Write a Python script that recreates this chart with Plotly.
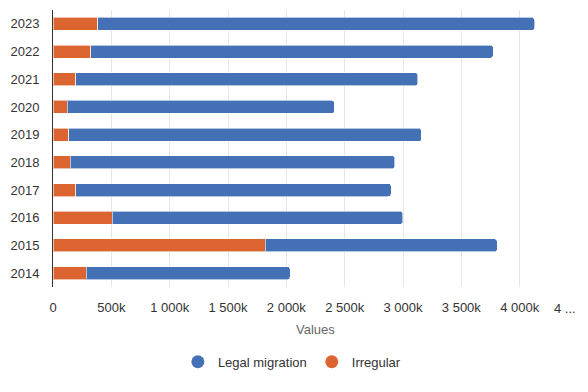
import plotly.graph_objects as go

years = ["2014", "2015", "2016", "2017", "2018", "2019", "2020", "2021", "2022", "2023"]
irregular = [283000, 1818000, 509000, 194000, 146000, 137000, 120000, 197000, 323000, 382000]
legal_migration = [1749000, 1990000, 2489000, 2704000, 2784000, 3021000, 2292000, 2930000, 3450000, 3746000]
tick_values = [0, 500000, 1000000, 1500000, 2000000, 2500000, 3000000, 3500000, 4000000, 4500000]
tick_labels = ["0", "500k", "1 000k", "1 500k", "2 000k", "2 500k", "3 000k", "3 500k", "4 000k", ""]
last_tick_label = "4 ..."

BLUE = "#4470b5"
ORANGE = "#dc6430"
FONT = "Liberation Sans, Arial, sans-serif"

fig = go.Figure()
fig.add_trace(go.Bar(
    y=years, x=irregular, orientation="h", name="Irregular",
    marker=dict(color=ORANGE, line=dict(color="rgba(255,255,255,0.6)", width=1)),
    showlegend=False,
))
fig.add_trace(go.Bar(
    y=years, x=legal_migration, orientation="h", name="Legal migration",
    marker=dict(color=BLUE, line=dict(color="rgba(255,255,255,0.6)", width=1)),
    showlegend=False,
))
# legend entries with circle symbols
fig.add_trace(go.Scatter(x=[None], y=[None], mode="markers", name="Legal migration",
                         marker=dict(color=BLUE, size=13, symbol="circle")))
fig.add_trace(go.Scatter(x=[None], y=[None], mode="markers", name="Irregular",
                         marker=dict(color=ORANGE, size=13, symbol="circle")))

# truncated last tick label, shifted inside the page as in the reference
fig.add_annotation(x=tick_values[-1], xref="x", y=0, yref="paper", yanchor="top",
                   xanchor="right", text=last_tick_label, showarrow=False,
                   xshift=0, yshift=-12, font=dict(size=13, color="#333333"))
fig.add_annotation(x=0.5, xref="paper", y=0, yref="paper", yanchor="top",
                   text="Values", showarrow=False, yshift=-33,
                   font=dict(size=13, color="#666666"))

fig.update_layout(
    width=588, height=392,
    margin=dict(l=53, r=10, t=10, b=105, autoexpand=False),
    barmode="stack", bargap=0.53, barcornerradius=3,
    plot_bgcolor="white", paper_bgcolor="white",
    font=dict(family=FONT, size=13, color="#333333"),
    legend=dict(orientation="h", x=0.455, xanchor="center", y=-0.27, yanchor="middle",
                font=dict(size=13, color="#333333"), itemwidth=30,
                traceorder="normal"),
    xaxis=dict(
        range=[0, 4500000], tickvals=tick_values, ticktext=tick_labels,
        showgrid=True, gridcolor="#e6e6e6", gridwidth=1, zeroline=False,
        showline=False, ticks="", ticklabelstandoff=11, automargin=False,
    ),
    yaxis=dict(
        showgrid=False, showline=True, linecolor="#333333", linewidth=1,
        ticks="", ticklabelstandoff=10, range=[-0.5, 9.5], automargin=False,
    ),
)

fig.write_html("out.html", post_script="document.body.style.margin='0';",
               config={"displayModeBar": False})
